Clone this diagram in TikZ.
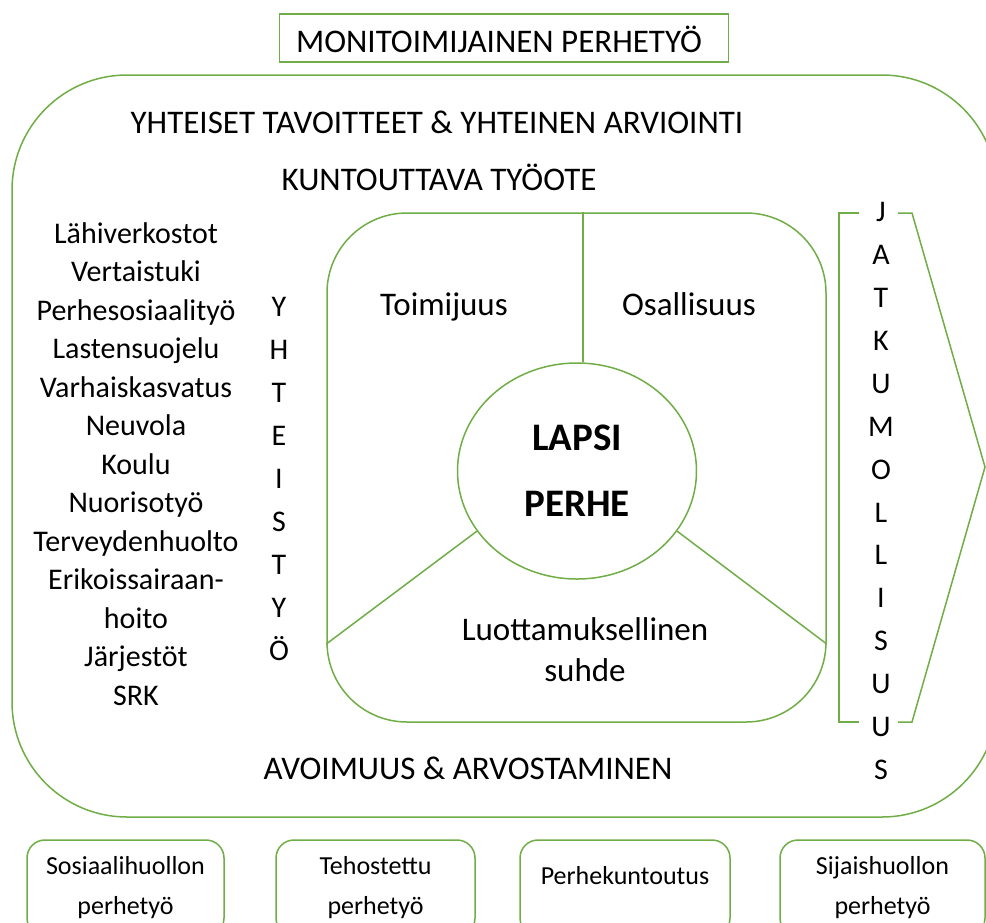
\documentclass[tikz,border=0pt]{standalone}
\usepackage{fontspec}
\setmainfont{Carlito}
\usetikzlibrary{shapes.geometric}
\definecolor{leaf}{RGB}{112,173,71}
\tikzset{
  frame/.style={draw=leaf, line width=1.5pt},
  txt/.style={font=\fontsize{33}{40}\selectfont, inner sep=0pt},
  unit/.style={frame, rounded corners=18pt, minimum height=96pt, inner sep=0pt, align=center, font=\fontsize{26}{40}\selectfont}
}
\begin{document}
\begin{tikzpicture}[x=1pt, y=-1pt]
    \useasboundingbox (0,0) rectangle (986,922);
    \clip (0,0) rectangle (986,922);

    \node[frame, minimum width=449pt, minimum height=48pt] (title) at (504,38) {};
    \node[txt] (titletext) at (499,39) {MONITOIMIJAINEN PERHETYÖ};
    \node[frame, rounded corners=115pt, minimum width=985pt, minimum height=742pt] (outer) at (504.5,446) {};

    \node[txt] (goals) at (437,122) {YHTEISET TAVOITTEET \& YHTEINEN ARVIOINTI};
    \node[txt] (rehab) at (439,177) {KUNTOUTTAVA TYÖOTE};
    \node[txt] (open) at (468,768) {AVOIMUUS \& ARVOSTAMINEN};

    \node[txt, align=center, font=\fontsize{30}{38.5}\selectfont] (nets) at (136,464) {Lähiverkostot\\Vertaistuki\\Perhesosiaalityö\\Lastensuojelu\\Varhaiskasvatus\\Neuvola\\Koulu\\Nuorisotyö\\Terveydenhuolto\\Erikoissairaan-\\hoito\\Järjestöt\\SRK};
    \node[txt, align=center, font=\fontsize{30}{42.9}\selectfont] (coop) at (279,479) {Y\\H\\T\\E\\I\\S\\T\\Y\\Ö};

    \node[frame, rounded corners=80pt, minimum width=499pt, minimum height=509pt] (core) at (576.5,467.5) {};
    \node[frame, ellipse, minimum width=239pt, minimum height=216pt, inner sep=0pt, align=center,
          font=\bfseries\fontsize{39}{66}\selectfont] (child) at (577,471) {LAPSI\\PERHE};
    \draw[frame] ([xshift=6pt]child.north) -- ([xshift=6pt]child.north |- core.north);
    \draw[frame] (child.211) -- (core.west |- 0,644);
    \draw[frame] (child.329) -- (core.east |- 0,644);

    \node[txt, anchor=base] (agency) at (444,315) {Toimijuus};
    \node[txt, anchor=base] (share) at (689,315) {Osallisuus};
    \node[txt, align=center, font=\fontsize{33}{41}\selectfont] (trust) at (585,650) {Luottamuksellinen\\suhde};

    \node[txt, align=center, font=\fontsize{30}{42.96}\selectfont] (cont) at (881,491) {J\\A\\T\\K\\U\\M\\O\\L\\L\\I\\S\\U\\U\\S};
    \coordinate (tip) at (985,467);
    \draw[frame] (859,213) -- (839,213) -- (839,722) -- (859,722);
    \draw[frame] (898,213) -- (912,213) -- (tip) -- (912,722) -- (898,722);

    \node[unit, minimum width=197pt] (social) at (125.5,888) {Sosiaalihuollon\\perhetyö};
    \node[unit, minimum width=199pt] (intense) at (375.5,888) {Tehostettu\\perhetyö};
    \node[unit, minimum width=210pt, text depth=25pt] (rehabfam) at (625,888) {Perhekuntoutus};
    \node[unit, minimum width=205pt] (foster) at (882.5,888) {Sijaishuollon\\perhetyö};
\end{tikzpicture}
\end{document}
